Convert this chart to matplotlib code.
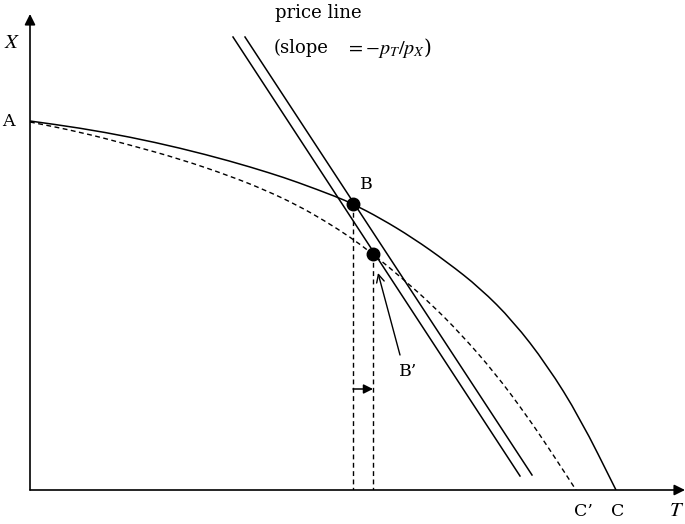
"""Production possibility frontier shifting in, with price line tangencies."""
import matplotlib
matplotlib.use("Agg")
import matplotlib.pyplot as plt
from matplotlib.path import Path
from matplotlib.patches import PathPatch

plt.rcParams["font.family"] = ["DejaVu Serif"]
plt.rcParams["mathtext.fontset"] = "stix"

# original frontier A-B-C (T, X)
ppf_t = [0, 50, 100, 150, 200, 240, 267, 307, 323, 350, 383, 417, 450, 483, 517, 550, 586]
ppf_x = [369, 362, 353, 342, 329, 317, 308, 293, 286, 272, 252, 228, 202, 169, 125, 72, 0]

# shifted frontier A-B'-C'
ppf2_t = [0, 50, 100, 150, 200, 235, 267, 295, 320, 343, 373, 400, 430, 465, 497, 522, 546]
ppf2_x = [368, 358, 345, 331, 314, 300, 285, 269, 253, 236, 211, 187, 157, 117, 74, 37, 0]

# two parallel price lines (start, end)
price1_t = [203, 490]
price1_x = [453, 14]
price2_t = [215, 502]
price2_x = [453, 15]

pt_b = (323, 286)
pt_b2 = (343, 236)
shift_arrow_x = 101

t_max, x_max = 655, 476


def smooth_curve(ts, xs):
    """Quadratic B-spline path through the midpoints, so read points don't kink."""
    pts = list(zip(ts, xs))
    verts = [pts[0]]
    codes = [Path.MOVETO]
    mids = [((a[0] + b[0]) / 2, (a[1] + b[1]) / 2) for a, b in zip(pts[:-1], pts[1:])]
    verts.append(mids[0])
    codes.append(Path.LINETO)
    for ctrl, end in zip(pts[1:-1], mids[1:]):
        verts += [ctrl, end]
        codes += [Path.CURVE3, Path.CURVE3]
    verts.append(pts[-1])
    codes.append(Path.LINETO)
    return Path(verts, codes)


fig = plt.figure(figsize=(6.85, 5.24), dpi=100)
ax = fig.add_axes([30 / 685, 34 / 524, t_max / 685, x_max / 524])
ax.set_xlim(0, t_max)
ax.set_ylim(0, x_max)
ax.axis("off")

# axes with arrow heads
arrow = dict(arrowstyle="-|>", mutation_scale=16, lw=1.2, color="black",
             shrinkA=0, shrinkB=0)
ax.annotate("", xy=(t_max, 0), xytext=(0, 0), arrowprops=arrow, annotation_clip=False)
ax.annotate("", xy=(0, x_max), xytext=(0, 0), arrowprops=arrow, annotation_clip=False)

ax.add_patch(PathPatch(smooth_curve(ppf_t, ppf_x), fc="none", ec="black", lw=1.1))
ax.add_patch(PathPatch(smooth_curve(ppf2_t, ppf2_x), fc="none", ec="black", lw=1.0,
                       ls=(0, (3.5, 2.5))))
ax.plot(price1_t, price1_x, color="black", lw=1.1)
ax.plot(price2_t, price2_x, color="black", lw=1.1)

# drop lines from B and B'
for p in (pt_b, pt_b2):
    ax.plot([p[0], p[0]], [p[1], 0], color="black", lw=1.0, ls=(0, (3.5, 2.5)))
ax.plot(*zip(pt_b, pt_b2), "o", color="black", ms=9, zorder=5)

ax.annotate("", xy=(pt_b2[0], shift_arrow_x), xytext=(pt_b[0], shift_arrow_x),
            arrowprops=dict(arrowstyle="-|>", mutation_scale=14, lw=1.1,
                            color="black", shrinkA=0, shrinkB=0))
ax.annotate("", xy=(348, 217), xytext=(370, 135),
            arrowprops=dict(arrowstyle="->", mutation_scale=14, lw=1.0,
                            color="black", shrinkA=0, shrinkB=0))

fs = 12.5
kw = dict(ha="center", va="center", fontsize=fs, clip_on=False)
ax.text(336, 306, "B", **kw)
ax.text(378, 118, "B\u2019", **kw)
ax.text(-22, 369, "A", **kw)
ax.text(553, -22, "C\u2019", **kw)
ax.text(588, -22, "C", **kw)
ax.text(-18, 448, "$X$", ha="center", va="center", fontsize=15, clip_on=False)
ax.text(647, -20, "$T$", ha="center", va="center", fontsize=15, clip_on=False)
ax.text(245, 477, "price line", ha="left", va="center", fontsize=13, clip_on=False)
ax.text(244, 442, "(slope", ha="left", va="center", fontsize=13, clip_on=False)
ax.text(316, 442, r"$=-p_T/p_X$)", ha="left", va="center", fontsize=14.5, clip_on=False)

fig.savefig("out.png", dpi=100)
